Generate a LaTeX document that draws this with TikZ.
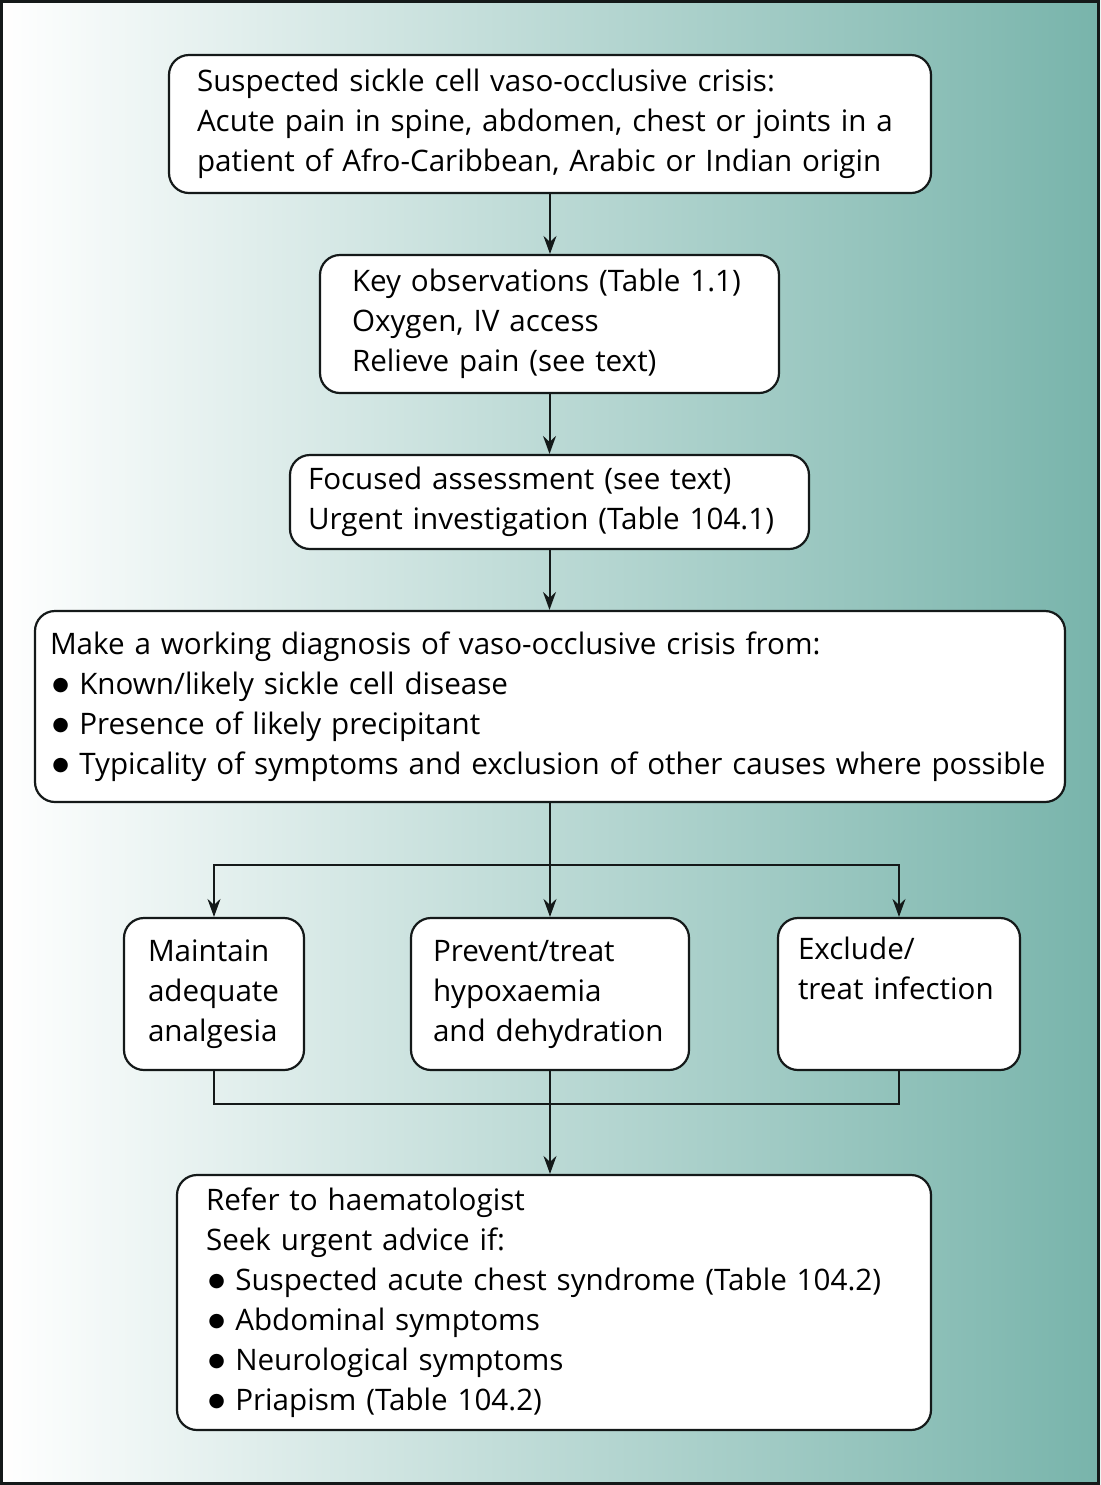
\documentclass[tikz,border=0pt]{standalone}
\usepackage{fontspec}
\setmainfont{Open Sans}
\newfontfamily\dejavu{DejaVu Sans}
\usetikzlibrary{arrows.meta}
\definecolor{bgteal}{RGB}{120,180,171}
\definecolor{linecol}{RGB}{20,25,25}
\hyphenpenalty=10000\relax
\newcommand\bul{\hspace{0.08em}\raisebox{1.8pt}{\fontsize{9.5}{9.5}\dejavu ●}\hspace{0.35em}}
\begin{document}
\begin{tikzpicture}[x=0.5pt,y=-0.5pt,
  box/.style={draw=linecol, line width=1.1pt, rounded corners=10pt, fill=white,
    align=left, font=\fontsize{14.8}{20}\selectfont, inner ysep=0pt},
  conn/.style={line width=1pt, draw=linecol},
  arr/.style={conn, -{Stealth[length=9pt,width=6.5pt,inset=3pt]}}]
\useasboundingbox (0,0) rectangle (1100,1485);
\shade[left color=white, right color=bgteal] (0,0) rectangle (1100,1485);
\draw[line width=1.6pt, draw=linecol] (1.5,1.5) rectangle (1098.5,1483.5);

\node[box, minimum width=381pt, minimum height=69pt, text width=353pt, inner xsep=14pt] (b1) at (550,124)
  {Suspected sickle cell vaso-occlusive crisis:\\Acute pain in spine, abdomen, chest or joints in a\\patient of Afro-Caribbean, Arabic or Indian origin};
\node[box, minimum width=229.5pt, minimum height=69pt, text width=197.5pt, inner xsep=16pt] (b2) at (549.5,324)
  {Key observations (Table 1.1)\\Oxygen, IV access\\Relieve pain (see text)};
\node[box, minimum width=259.5pt, minimum height=47pt, text width=241.5pt, inner xsep=9pt] (b3) at (549.5,502)
  {Focused assessment (see text)\\Urgent investigation (Table 104.1)};
\node[box, minimum width=515pt, minimum height=95.5pt, text width=500pt, inner xsep=7.5pt] (b4) at (550,706.5)
  {Make a working diagnosis of vaso-occlusive crisis from:\\\bul Known/likely sickle cell disease\\\bul Presence of likely precipitant\\\bul Typicality of symptoms and exclusion of other causes where possible};
\node[box, minimum width=90pt, minimum height=76pt, text width=66pt, inner xsep=12pt] (b5a) at (214,994)
  {Maintain\\adequate\\analgesia};
\node[box, minimum width=139pt, minimum height=76pt, text width=117pt, inner xsep=11pt] (b5b) at (550,994)
  {Prevent/treat\\hypoxaemia\\and dehydration};
\node[box, minimum width=121pt, minimum height=76pt, text width=101pt, inner xsep=10pt] (b5c) at (899,994)
  {Exclude/\\treat infection\\\strut};
\node[box, minimum width=377pt, minimum height=127.5pt, text width=348pt, inner xsep=14.5pt] (b6) at (554,1302.5)
  {Refer to haematologist\\Seek urgent advice if:\\\bul Suspected acute chest syndrome (Table 104.2)\\\bul Abdominal symptoms\\\bul Neurological symptoms\\\bul Priapism (Table 104.2)};

\coordinate (split) at (550,865);
\coordinate (join) at (550,1104);
\draw[arr] (b1.south) -- (b1.south |- b2.north);
\draw[arr] (b2.south) -- (b2.south |- b3.north);
\draw[arr] (b3.south) -- (b3.south |- b4.north);
\draw[arr] (b4.south) -- (b4.south |- b5b.north);
\draw[arr] (split) -| (b5a.north);
\draw[arr] (split) -| (b5c.north);
\draw[conn] (b5a.south) |- (join);
\draw[conn] (b5c.south) |- (join);
\draw[arr] (b5b.south) -- (b5b.south |- b6.north);
\end{tikzpicture}
\end{document}
